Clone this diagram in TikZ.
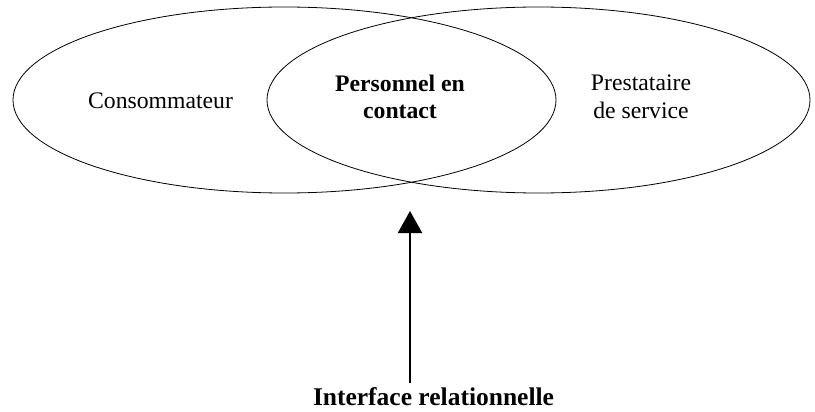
\documentclass[tikz,border=0pt]{standalone}
\usepackage{fontspec}
\setmainfont{Liberation Serif}
\usepackage{tikz}
\usetikzlibrary{arrows.meta, shapes.geometric, positioning}

\begin{document}
\begin{tikzpicture}[x=1pt,y=-1pt,
                    every node/.style={font=\fontsize{23.7}{27.5}\selectfont},
                    zone/.style={ellipse,draw,line width=0.8pt,inner sep=0pt,
                                 minimum width=543pt,minimum height=186pt},
                    lbl/.style={align=center,inner sep=0pt},
                    pointer/.style={-{Triangle[width=24pt,length=22pt]},line width=2.2pt}]
  \useasboundingbox (0,0) rectangle (815,412);

  \node[zone]          (cons) at (284.5, 100)  {};
  \node[zone]          (prest) at (538.5, 100) {};

  \node[lbl]           (tcons) at (160.5, 101)  {Consommateur};
  \node[lbl,font=\fontsize{23.7}{27.5}\selectfont\bfseries]
                       (tpers) at (400, 97)     {Personnel en\\contact};
  \node[lbl]           (tprest) at (641, 97)    {Prestataire\\de service};

  \node[lbl,font=\fontsize{25.5}{28}\selectfont\bfseries]
                       (iface) at (433.5, 397)  {Interface relationnelle};
  \coordinate (foot) at (410, 383);
  \coordinate (tip)  at (410, 211);
  \draw[pointer] (foot) -- (tip);
\end{tikzpicture}
\end{document}
